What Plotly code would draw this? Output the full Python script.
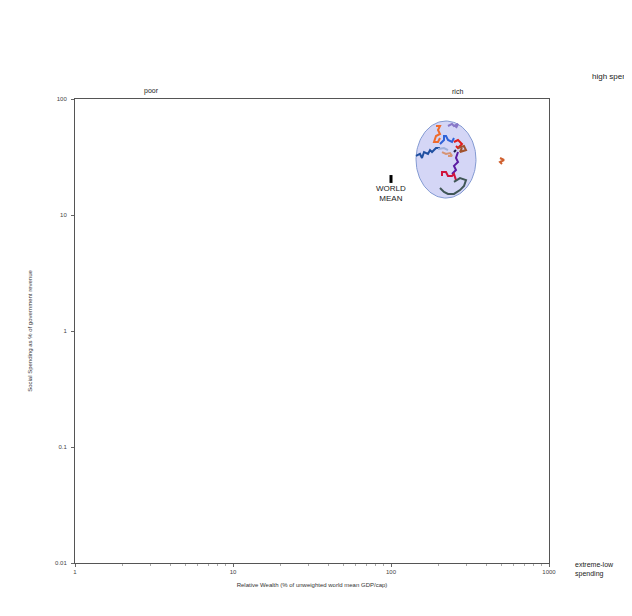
import numpy as np
import plotly.graph_objects as go

FONT = "Liberation Sans, Arial, sans-serif"

# ---- data ----
x_ticks = [1, 10, 100, 1000]
x_tick_labels = ["1", "10", "100", "1000"]
y_ticks = [0.01, 0.1, 1, 10, 100]
y_tick_labels = ["0.01", "0.1", "1", "10", "100"]

# country trajectories: (relative wealth, social spending %)
orange_x = [192.7, 204.2, 198.4, 204.2, 192.7, 187.2, 198.4, 204.2]
orange_y = [58.5, 58.5, 54.1, 49.9, 48.0, 42.6, 42.6, 46.1]

royal_x = [204.2, 216.5, 216.5, 222.9, 229.5, 243.3, 250.4]
royal_y = [40.9, 44.3, 48.0, 48.0, 44.3, 42.6, 46.1]

lavender_x = [229.5, 243.3, 250.4, 265.5, 257.8]
lavender_y = [58.5, 60.9, 58.5, 60.9, 56.2]

red_x = [250.4, 265.5, 281.4, 265.5, 257.8]
red_y = [42.6, 44.3, 40.9, 37.8, 39.3]

brown_x = [265.5, 289.7, 298.3, 273.3, 281.4]
brown_y = [37.8, 39.3, 36.3, 34.9, 37.8]

darkblue_x = [143.9, 152.6, 157.1, 161.8, 171.5, 176.6, 181.8, 192.7, 204.2]
darkblue_y = [32.3, 33.6, 31.0, 34.9, 33.6, 36.3, 34.9, 37.8, 37.8]

steel_x = [198.4, 216.5, 229.5]
steel_y = [37.0, 37.8, 36.3]

tan_x = [210.3, 222.9, 236.3, 243.3, 229.5]
tan_y = [34.9, 33.6, 34.2, 32.3, 32.3]

navy_x = [250.4, 257.8]
navy_y = [34.9, 36.3]

purple_x = [265.5, 257.8, 265.5, 250.4, 257.8, 243.3]
purple_y = [34.9, 31.0, 28.6, 26.5, 24.4, 22.6]

crimson_x = [210.3, 210.3, 222.9, 229.5, 243.3, 250.4, 257.8]
crimson_y = [21.7, 23.5, 23.5, 21.7, 21.7, 22.6, 20.0]

slate_x = [204.2, 216.5, 229.5, 250.4, 273.3, 289.7, 298.3, 273.3, 250.4]
slate_y = [17.1, 15.8, 15.2, 15.2, 16.4, 17.8, 20.0, 20.8, 19.3]

outlier_x = [489.7, 519.1, 489.7, 504.2]
outlier_y = [31.0, 29.8, 28.6, 27.5]

world_mean_x = [100, 100]
world_mean_y = [18.9, 22.1]

# cluster ellipse extents (data units)
ell_x_min, ell_x_max = 144, 345
ell_y_min, ell_y_max = 14.0, 64.6

series = [
    ("orange", orange_x, orange_y, "#ee6a2c"),
    ("royal", royal_x, royal_y, "#2f62d8"),
    ("lavender", lavender_x, lavender_y, "#8878c8"),
    ("red", red_x, red_y, "#e01c1c"),
    ("brown", brown_x, brown_y, "#a0522d"),
    ("darkblue", darkblue_x, darkblue_y, "#1f4fa0"),
    ("steel", steel_x, steel_y, "#9fb0da"),
    ("tan", tan_x, tan_y, "#d79474"),
    ("navy", navy_x, navy_y, "#1c1c48"),
    ("purple", purple_x, purple_y, "#5a1aa0"),
    ("crimson", crimson_x, crimson_y, "#d0143c"),
    ("slate", slate_x, slate_y, "#3f5656"),
    ("outlier", outlier_x, outlier_y, "#d0602e"),
]

fig = go.Figure()

# ellipse around the rich cluster
t = np.linspace(0, 2 * np.pi, 121)
lxc = (np.log10(ell_x_min) + np.log10(ell_x_max)) / 2
lxr = (np.log10(ell_x_max) - np.log10(ell_x_min)) / 2
lyc = (np.log10(ell_y_min) + np.log10(ell_y_max)) / 2
lyr = (np.log10(ell_y_max) - np.log10(ell_y_min)) / 2
fig.add_trace(go.Scatter(
    x=10 ** (lxc + lxr * np.cos(t)), y=10 ** (lyc + lyr * np.sin(t)),
    mode="lines", fill="toself", fillcolor="rgba(160,165,235,0.45)",
    line=dict(color="rgba(120,145,205,0.9)", width=1), hoverinfo="skip",
    showlegend=False))

for name, xs, ys, col in series:
    fig.add_trace(go.Scatter(x=xs, y=ys, mode="lines", name=name,
                             line=dict(color=col, width=2), showlegend=False))

fig.add_trace(go.Scatter(x=world_mean_x, y=world_mean_y, mode="lines",
                         line=dict(color="black", width=3), showlegend=False))

TXT = "#222222"
fig.add_annotation(x=2, y=np.log10(world_mean_y[0]), xref="x", yref="y",
                   text="WORLD<br>MEAN", showarrow=False, yanchor="top",
                   yshift=1, font=dict(size=8, color=TXT, family=FONT))

fig.add_annotation(x=0.487, y=1, xref="x", yref="paper", text="poor",
                   showarrow=False, yanchor="bottom", yshift=2,
                   font=dict(size=7, color=TXT, family=FONT))
fig.add_annotation(x=2.418, y=1, xref="x", yref="paper", text="rich",
                   showarrow=False, yanchor="bottom", yshift=2,
                   font=dict(size=7, color=TXT, family=FONT))
fig.add_annotation(x=1.087, y=1.062, xref="paper", yref="paper",
                   text="high spending", showarrow=False, xanchor="left",
                   font=dict(size=8, color=TXT, family=FONT))
fig.add_annotation(x=1.0506, y=-0.037, xref="paper", yref="paper",
                   text="extreme-low<br>spending", showarrow=False,
                   xanchor="left", align="left",
                   font=dict(size=7, color=TXT, family=FONT))

axis_common = dict(showgrid=False, zeroline=False, showline=True,
                   linecolor="#555555", linewidth=1, mirror=True,
                   ticks="outside", ticklen=3, tickwidth=1,
                   tickcolor="#666666",
                   tickfont=dict(size=6, color="#444444", family=FONT))

fig.update_xaxes(type="log", range=[0, 3], tickvals=x_ticks,
                 ticktext=x_tick_labels,
                 minor=dict(ticks="outside", ticklen=2, tickcolor="#aaaaaa",
                            dtick="D1", showgrid=False),
                 title=dict(text="Relative Wealth (% of unweighted world mean GDP/cap)",
                            font=dict(size=6, color="#333333", family=FONT),
                            standoff=8),
                 **axis_common)
fig.update_yaxes(type="log", range=[-2, 2], tickvals=y_ticks,
                 ticktext=y_tick_labels, ticklabelstandoff=3,
                 title=dict(text="Social Spending as % of government revenue",
                            font=dict(size=6, color="#333333", family=FONT),
                            standoff=22),
                 **axis_common)

fig.update_layout(width=632, height=616, autosize=False,
                  margin=dict(l=67, r=91, t=91, b=61),
                  paper_bgcolor="white", plot_bgcolor="white",
                  font=dict(family=FONT), showlegend=False)

fig.write_html("out.html")
